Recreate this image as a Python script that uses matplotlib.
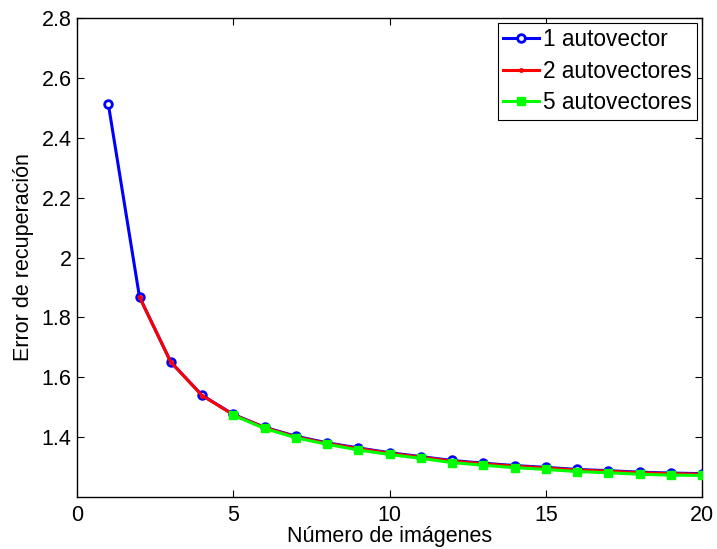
import matplotlib
matplotlib.use("Agg")
import matplotlib.pyplot as plt

# Data
x1 = list(range(1, 21))
y1 = [2.514, 1.868, 1.651, 1.540, 1.476, 1.433, 1.403, 1.381, 1.364, 1.348,
      1.335, 1.322, 1.313, 1.305, 1.299, 1.292, 1.288, 1.283, 1.280, 1.278]
x2 = list(range(2, 21))
y2 = [1.868, 1.651, 1.539, 1.475, 1.432, 1.401, 1.379, 1.362, 1.346, 1.333,
      1.320, 1.311, 1.303, 1.297, 1.290, 1.286, 1.281, 1.278, 1.276]
x5 = list(range(5, 21))
y5 = [1.473, 1.429, 1.398, 1.376, 1.357, 1.342, 1.329, 1.315, 1.306, 1.298,
      1.292, 1.285, 1.281, 1.276, 1.273, 1.272]
labels = ["1 autovector", "2 autovectores", "5 autovectores"]
xticks = [0, 5, 10, 15, 20]
yticks = [1.4, 1.6, 1.8, 2.0, 2.2, 2.4, 2.6, 2.8]
yticklabels = ["1.4", "1.6", "1.8", "2", "2.2", "2.4", "2.6", "2.8"]

FS = 15.5
LFS = 16.3
plt.rcParams['font.family'] = ['Liberation Sans', 'DejaVu Sans']
plt.rcParams['font.size'] = FS

fig = plt.figure(figsize=(7.17, 5.49), dpi=100)
ax = fig.add_axes([77/717, 1 - 497/549, (702-77)/717, (497-18)/549])

ax.plot(x1, y1, color='#0000ff', linestyle='-', lw=2.2, marker='o', ms=5.5,
        mfc='white', mec='#0000ff', mew=2, label=labels[0], zorder=3)
ax.plot(x2, y2, color='#ff0000', linestyle='-', lw=2.2, marker='.', ms=5,
        label=labels[1], zorder=4)
ax.plot(x5, y5, color='#00ff00', linestyle='-', lw=2.2, marker='s', ms=6,
        mfc='#00ff00', mec='#00ff00', label=labels[2], zorder=5)

ax.set_xlim(0, 20)
ax.set_ylim(1.2, 2.8)
ax.set_xticks(xticks)
ax.set_xticklabels([str(t) for t in xticks])
ax.set_yticks(yticks)
ax.set_yticklabels(yticklabels)
ax.tick_params(direction='in', top=True, right=True, length=5, width=0.8, labelsize=FS)
ax.tick_params(axis='y', pad=4)
ax.tick_params(axis='x', pad=6)
for s in ax.spines.values():
    s.set_linewidth(1.0)

ax.set_xlabel("Número de imágenes", fontsize=FS, labelpad=0)
ax.set_ylabel("Error de recuperación", fontsize=FS, labelpad=5)

leg = ax.legend(loc='upper right', fontsize=LFS, frameon=True, fancybox=False,
                edgecolor='black', framealpha=1, borderaxespad=0.2,
                handlelength=1.55, handletextpad=0.2, borderpad=0.25, labelspacing=0.38)
leg.get_frame().set_linewidth(0.8)

fig.savefig("out.png", dpi=100)
